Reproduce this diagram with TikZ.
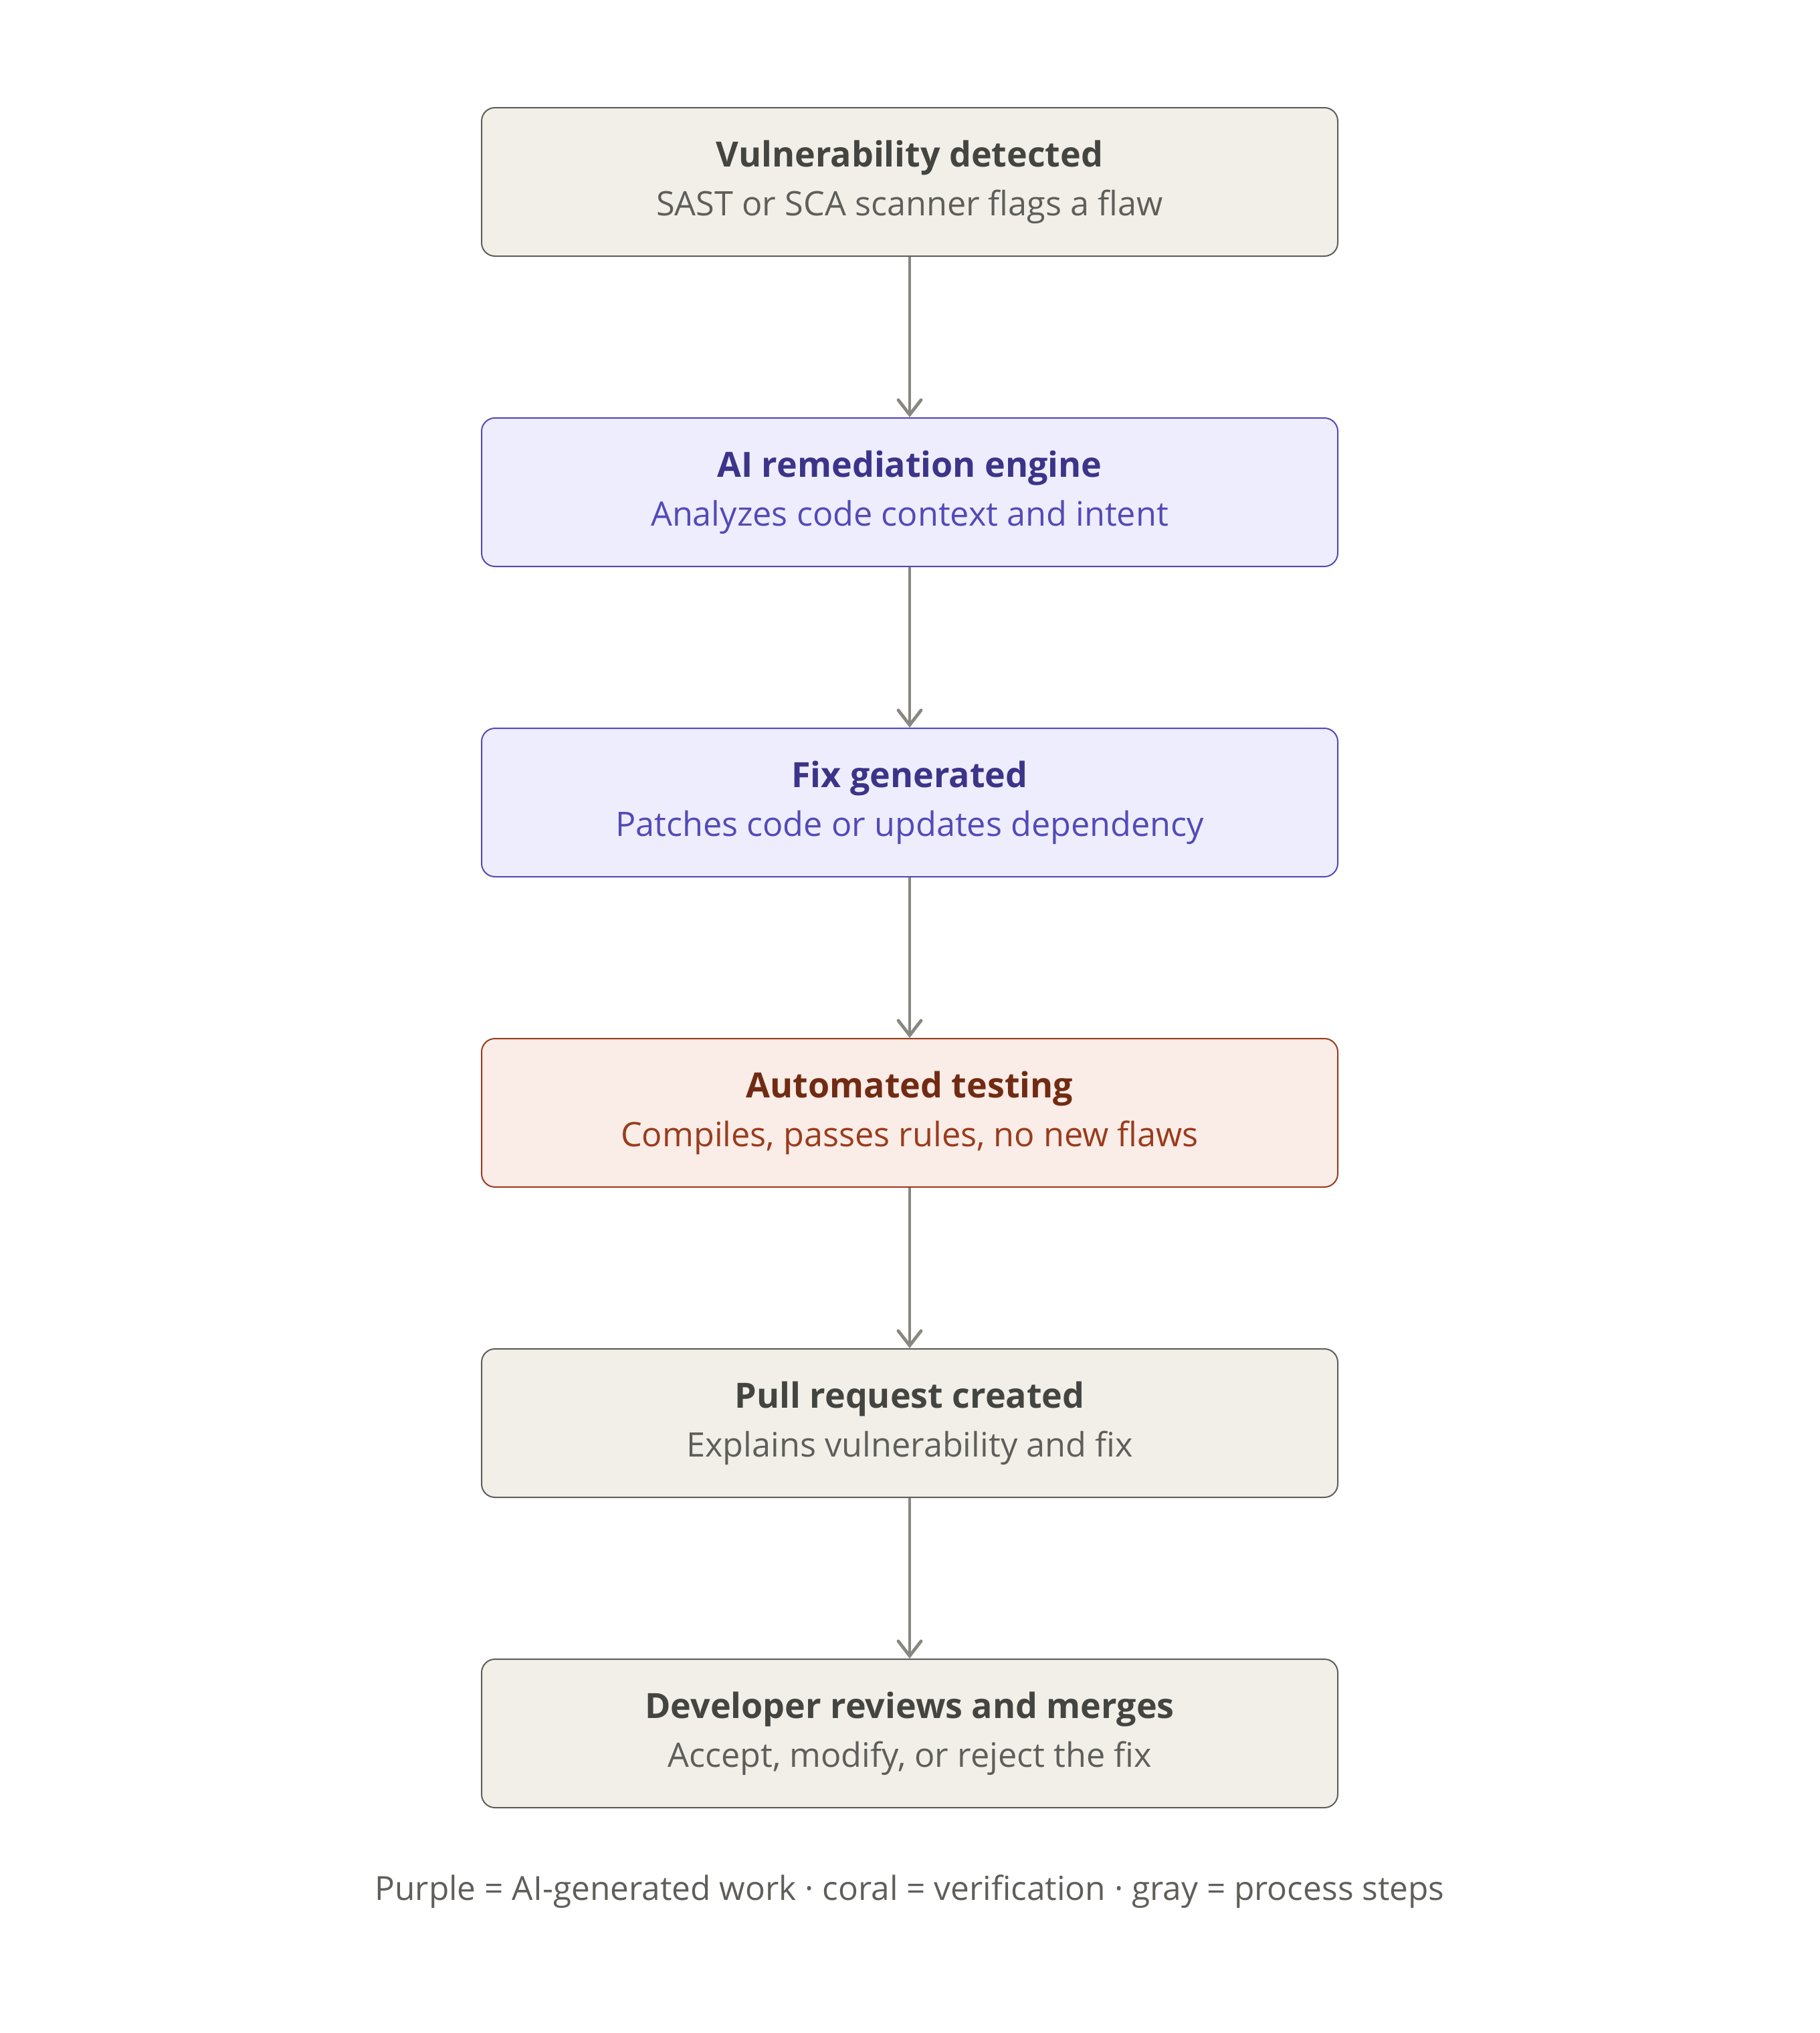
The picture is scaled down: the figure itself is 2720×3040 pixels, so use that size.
\documentclass[tikz,border=0pt]{standalone}
\usepackage{fontspec}
\setmainfont{Open Sans}
\usetikzlibrary{arrows.meta}

\definecolor{grayfill}{HTML}{F1EFE8}
\definecolor{grayline}{HTML}{5F5E5A}
\definecolor{grayhead}{HTML}{444441}
\definecolor{purplefill}{HTML}{EEEDFE}
\definecolor{purpleline}{HTML}{534AB7}
\definecolor{purplehead}{HTML}{3C3489}
\definecolor{coralfill}{HTML}{FAECE7}
\definecolor{coralline}{HTML}{993C1D}
\definecolor{coralhead}{HTML}{712B13}
\definecolor{arrowgray}{HTML}{888780}

\newcommand{\steptitle}[2]{{\color{#1}\bfseries\fontsize{26}{36.5}\selectfont #2}}
\newcommand{\stepnote}[2]{{\color{#1}\fontsize{25.2}{36.5}\selectfont #2}}

\begin{document}
\begin{tikzpicture}[x=0.5pt,y=-0.5pt,
    box/.style={rounded corners=10pt,line width=1pt,minimum width=640pt,
        minimum height=111pt,align=center,inner sep=0pt,
        font=\fontsize{25.2}{36.5}\selectfont},
    graybox/.style={box,fill=grayfill,draw=grayline},
    purplebox/.style={box,fill=purplefill,draw=purpleline},
    coralbox/.style={box,fill=coralfill,draw=coralline},
    flow/.style={draw=arrowgray,line width=2.4pt,
        -{Straight Barb[length=11pt,width=17pt,line cap=round]}}]
    \useasboundingbox (0,0) rectangle (2720,3040);

    \node[graybox] (detect) at (1360,272)
        {\steptitle{grayhead}{Vulnerability detected}\\\stepnote{grayline}{SAST or SCA scanner flags a flaw}};
    \node[purplebox] (engine) at (1360,736)
        {\steptitle{purplehead}{AI remediation engine}\\\stepnote{purpleline}{Analyzes code context and intent}};
    \node[purplebox] (fix) at (1360,1200)
        {\steptitle{purplehead}{Fix generated}\\\stepnote{purpleline}{Patches code or updates dependency}};
    \node[coralbox] (test) at (1360,1664)
        {\steptitle{coralhead}{Automated testing}\\\stepnote{coralline}{Compiles, passes rules, no new flaws}};
    \node[graybox] (pr) at (1360,2128)
        {\steptitle{grayhead}{Pull request created}\\\stepnote{grayline}{Explains vulnerability and fix}};
    \node[graybox] (merge) at (1360,2592)
        {\steptitle{grayhead}{Developer reviews and merges}\\\stepnote{grayline}{Accept, modify, or reject the fix}};

    \foreach \a/\b in {detect/engine,engine/fix,fix/test,test/pr,pr/merge}
        \draw[flow] (\a) -- (\b);

    \node[text=grayline,font=\fontsize{24.8}{30}\selectfont] (legend) at (1360,2828)
        {Purple = AI-generated work · coral = verification · gray = process steps};
\end{tikzpicture}
\end{document}
